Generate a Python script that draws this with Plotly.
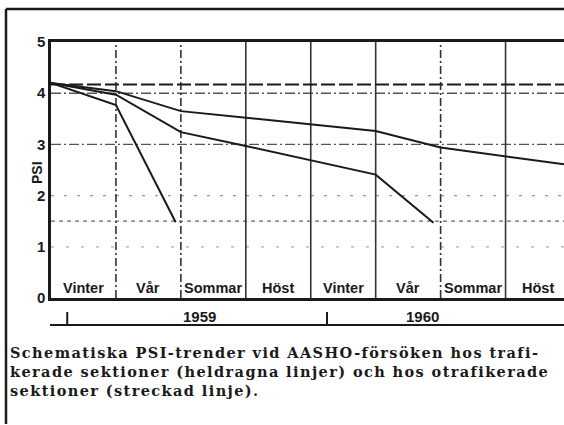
import plotly.graph_objects as go

# Årstider (x-axeln, en enhet per årstid)
arstider = ["Vinter", "Vår", "Sommar", "Höst", "Vinter", "Vår", "Sommar", "Höst"]
ar = ["1959", "1960"]
ar_mitt = [2.0, 6.0]        # var årtalen står
ar_start = [0.25, 4.25]     # streck vid årsskiftet

# Trafikerade sektioner (heldragna linjer)
t_a = [0, 1, 1.92]
psi_a = [4.2, 3.77, 1.48]

t_b = [0, 1, 2, 3, 5, 5.89]
psi_b = [4.2, 3.97, 3.24, 2.97, 2.41, 1.47]

t_c = [0, 1, 2, 3, 4, 5, 6, 7, 7.9]
psi_c = [4.2, 4.04, 3.65, 3.52, 3.39, 3.26, 2.94, 2.76, 2.61]

# Otrafikerade sektioner (streckad linje)
t_d = [0, 7.9]
psi_d = [4.17, 4.17]

bildtext = ["Schematiska PSI-trender vid AASHO-försöken hos trafi-",
            "kerade sektioner (heldragna linjer) och hos otrafikerade",
            "sektioner (streckad linje)."]

XMAX = 7.9
W, H = 564, 425
L, R, T, B = 51, 0, 42, 127


def px(x):
    return (x - L) / (W - L - R)


def py(y):
    return (H - B - y) / (H - T - B)


fig = go.Figure()

svart = "#1a1a1a"
for t, p in [(t_a, psi_a), (t_b, psi_b), (t_c, psi_c)]:
    fig.add_trace(go.Scatter(x=t, y=p, mode="lines",
                             line=dict(color=svart, width=2), showlegend=False))

fig.add_trace(go.Scatter(x=t_d, y=psi_d, mode="lines",
                         line=dict(color=svart, width=2, dash="14px,4px"),
                         showlegend=False))

shapes = []
# horisontella stödlinjer
for yv, dash, col, w in [(4, "10px,3px,2px,3px", "#555", 1.4),
                         (3, "10px,3px,2px,3px", "#555", 1.4),
                         (2, "3px,10px", "#999", 1.2),
                         (1.5, "4px,4px", "#666", 1.3),
                         (1, "3px,12px", "#aaa", 1.2)]:
    shapes.append(dict(type="line", xref="x", yref="y", x0=0, x1=XMAX, y0=yv, y1=yv,
                       line=dict(color=col, width=w, dash=dash), layer="below"))
# vertikala årstidsgränser
for i in range(1, 8):
    dash = "8px,3px,2px,3px" if i in (1, 2, 6) else "solid"
    shapes.append(dict(type="line", xref="x", yref="y", x0=i, x1=i, y0=0, y1=5,
                       line=dict(color="#333", width=1.6, dash=dash), layer="below"))

# årsaxel under diagrammet
shapes.append(dict(type="line", xref="paper", yref="paper",
                   x0=px(50), x1=px(564), y0=py(325), y1=py(325),
                   line=dict(color=svart, width=2)))
for s in ar_start:
    shapes.append(dict(type="line", xref="paper", yref="paper",
                       x0=s / XMAX, x1=s / XMAX, y0=py(325), y1=py(312),
                       line=dict(color=svart, width=2)))

# ram runt figuren
shapes.append(dict(type="line", xref="paper", yref="paper",
                   x0=px(6), x1=px(564), y0=py(9), y1=py(9),
                   line=dict(color=svart, width=2.5)))
shapes.append(dict(type="line", xref="paper", yref="paper",
                   x0=px(6), x1=px(6), y0=py(9), y1=py(424),
                   line=dict(color=svart, width=2.5)))

annotations = []
for i, namn in enumerate(arstider):
    annotations.append(dict(x=i + 0.5, y=0.2, xref="x", yref="y", text=namn,
                            showarrow=False, yanchor="middle",
                            font=dict(family="Liberation Sans", size=14.5,
                                      color=svart, weight="bold")))
for a, xm in zip(ar, ar_mitt):
    annotations.append(dict(x=xm / XMAX, y=py(316), xref="paper", yref="paper",
                            text=a, showarrow=False, yanchor="middle",
                            font=dict(family="Liberation Sans", size=15,
                                      color=svart, weight="bold")))
annotations.append(dict(x=px(27), y=py(173), xref="paper", yref="paper",
                        text="PSI", showarrow=False, textangle=-90,
                        font=dict(family="Liberation Sans", size=14,
                                  color=svart, weight="bold")))
# bildtext, lite spärrad som i originalet
text = "<br>".join('<span style="letter-spacing:1.4px">' + r + "</span>"
                   for r in bildtext)
annotations.append(dict(x=px(9), y=py(371), xref="paper", yref="paper",
                        text=text, showarrow=False, xanchor="left",
                        yanchor="middle", align="left", borderpad=0,
                        font=dict(family="DejaVu Serif", size=14.5,
                                  color=svart, weight="bold")))

fig.update_layout(
    width=W, height=H,
    margin=dict(l=L, r=R, t=T, b=B),
    paper_bgcolor="white", plot_bgcolor="white",
    xaxis=dict(range=[0, XMAX], showgrid=False, zeroline=False,
               showticklabels=False, ticks="", showline=True, mirror=True,
               linecolor=svart, linewidth=2.5),
    yaxis=dict(range=[0, 5], showgrid=False, zeroline=False,
               tickvals=[0, 1, 2, 3, 4, 5], ticks="", showline=True,
               linecolor=svart, linewidth=2.5,
               tickfont=dict(family="Liberation Sans", size=15,
                             color=svart, weight="bold")),
    shapes=shapes,
    annotations=annotations,
)

fig.write_html("out.html", config={"displayModeBar": False},
               post_script="document.body.style.margin='0';")
